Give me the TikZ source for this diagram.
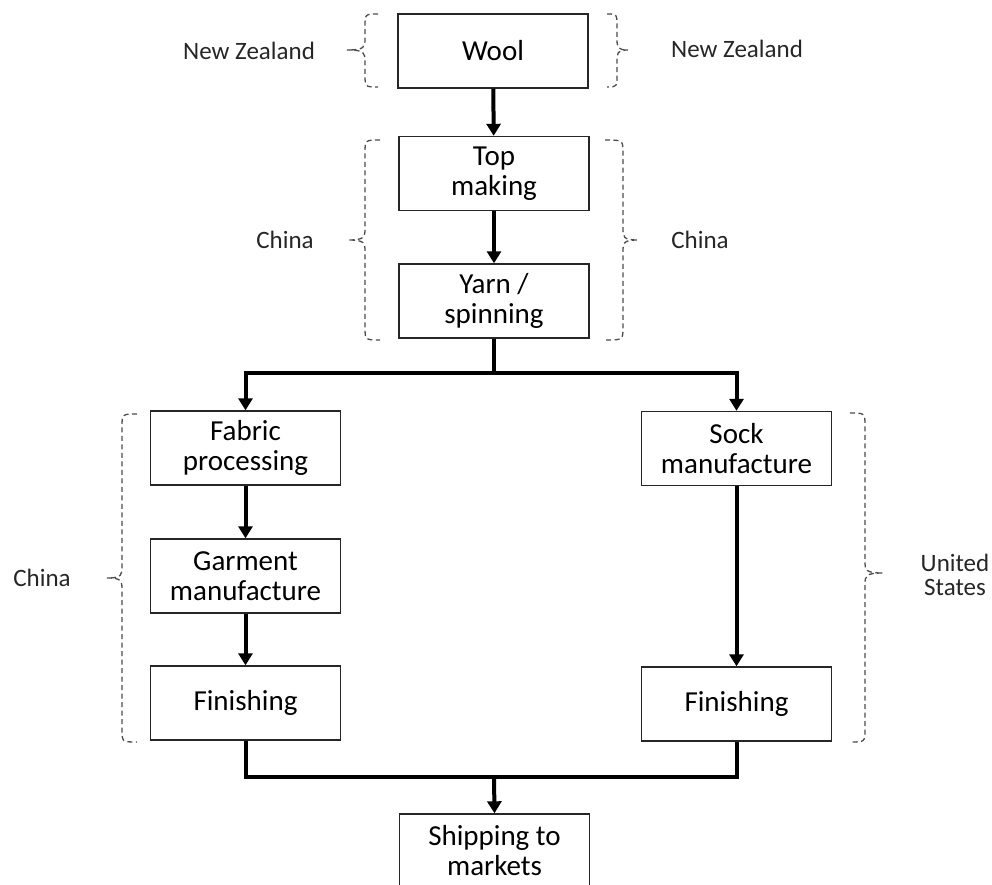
\documentclass[tikz,border=0pt]{standalone}
\usepackage{fontspec}
\setmainfont{Carlito}
\usetikzlibrary{arrows.meta}

\tikzset{
  stagebox/.style={draw=black!85, line width=1.4pt, fill=white,
    minimum width=190pt, minimum height=74pt, inner sep=0pt,
    align=center, font=\fontsize{29}{30}\selectfont},
  region/.style={font=\fontsize{25}{24}\selectfont, align=center, text=black!85},
  flow/.style={line width=4pt, -{Triangle[width=14pt,length=12pt]}},
  flowline/.style={line width=4pt},
  dashbrace/.style={draw=black!70, line width=1.3pt, dash pattern=on 5pt off 3.5pt},
}

% curly brace: #1 end x, #2 spine x, #3 tip x, #4 top y, #5 tip y, #6 bottom y
\newcommand\countrybrace[6]{%
  \draw[dashbrace] (#1,#4) .. controls (#2,#4) .. (#2,#4+13)
    -- (#2,#5-12) .. controls (#2,#5-3) and (#2,#5) .. (#3,#5)
    .. controls (#2,#5) and (#2,#5+3) .. (#2,#5+12)
    -- (#2,#6-13) .. controls (#2,#6) .. (#1,#6);}

\begin{document}
\begin{tikzpicture}[x=1pt,y=-1pt]
  \useasboundingbox (0,0) rectangle (992,885);

  % process stages
  \node[stagebox] (wool)    at (493,51)    {Wool};
  \node[stagebox] (top)     at (494,173.5) {Top\\making};
  \node[stagebox] (yarn)    at (494,301)   {Yarn /\\spinning};
  \node[stagebox] (fabric)  at (245.5,448) {Fabric\\processing};
  \node[stagebox] (garment) at (245.5,576) {Garment\\manufacture};
  \node[stagebox] (finL)    at (245.5,703) {Finishing};
  \node[stagebox] (sock)    at (736.5,448.5) {Sock\\manufacture};
  \node[stagebox] (finR)    at (736.5,704) {Finishing};
  \node[stagebox] (ship)    at (494.5,851) {Shipping to\\markets};

  % split and merge points
  \coordinate (split) at (494,373);
  \coordinate (merge) at (494,777);

  % flow connectors
  \draw[flow] (wool) -- (top);
  \draw[flow] (top) -- (yarn);
  \draw[flowline] (yarn.south) -- (split);
  \draw[flow] (split) -| (fabric.north);
  \draw[flow] (split) -| (sock.north);
  \draw[flow] (fabric) -- (garment);
  \draw[flow] (garment) -- (finL);
  \draw[flow] (sock) -- (finR);
  \draw[flowline] (finL.south) |- (merge);
  \draw[flowline] (finR.south) |- (merge);
  \draw[flow] (merge) -- (ship.north);

  % country braces
  \countrybrace{378}{365}{347}{14}{50}{87}
  \countrybrace{607}{617}{628}{14}{50}{87}
  \countrybrace{380}{365}{348}{140}{240}{340}
  \countrybrace{605}{623}{638}{140}{240}{340}
  \countrybrace{137}{122}{107}{414}{578}{742}
  \countrybrace{850}{865}{883}{413}{573}{742}

  % country labels
  \node[region] (nzL) at (249,51)  {New Zealand};
  \node[region] (nzR) at (737,49)  {New Zealand};
  \node[region] (cnL) at (285,240) {China};
  \node[region] (cnR) at (700,240) {China};
  \node[region] (cnB) at (42,578)  {China};
  \node[region] (us)  at (955,575) {United\\States};
\end{tikzpicture}
\end{document}
